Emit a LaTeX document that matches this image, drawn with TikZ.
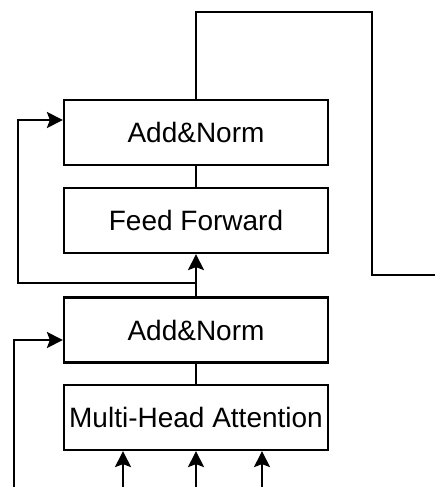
\documentclass[tikz,border=0pt]{standalone}
\usepackage{fontspec}
\setmainfont{Liberation Sans}
\usetikzlibrary{arrows.meta}
\begin{document}
\begin{tikzpicture}[x=1pt,y=-1pt,
  blk/.style={draw=black, line width=2.2pt, minimum width=264pt, minimum height=65pt, inner sep=0pt, font=\fontsize{28}{33}\selectfont},
  ln/.style={draw=black, line width=2.2pt},
  arr/.style={ln, -{Stealth[length=16pt,width=16pt,inset=3pt]}}]
\useasboundingbox (0,0) rectangle (434,487);
\node[blk] (an2) at (196,132.5) {Add\&Norm};
\node[blk] (ff)  at (196,220.5) {Feed Forward};
\node[blk] (an1) at (196,330) {Add\&Norm};
\node[blk] (mha) at (196,417.5) {Multi-Head Attention};
% output line
\coordinate (o1) at (196,12);
\coordinate (o2) at (372,12);
\coordinate (o3) at (372,275);
\coordinate (o4) at (436,275);
\draw[ln] (an2.north) -- (o1) -- (o2) -- (o3) -- (o4);
% internal connections
\draw[ln] (ff.north) -- (an2.south);
\draw[arr] (an1.north) -- (ff.south);
\draw[ln] (mha.north) -- (an1.south);
% residual upper
\coordinate (p1) at (18,283);
\coordinate (p2) at (18,120);
\draw[arr] (an1.north |- p1) -- (p1) -- (p2) -- (p2 -| an2.west);
% residual lower
\coordinate (q1) at (14,489);
\coordinate (q2) at (14,340);
\draw[arr] (q1) -- (q2) -- (q2 -| an1.west);
% inputs
\coordinate (i1) at (123,489);
\coordinate (i2) at (196,489);
\coordinate (i3) at (262,489);
\draw[arr] (i1) -- (i1 |- mha.south);
\draw[arr] (i2) -- (i2 |- mha.south);
\draw[arr] (i3) -- (i3 |- mha.south);
\end{tikzpicture}
\end{document}
